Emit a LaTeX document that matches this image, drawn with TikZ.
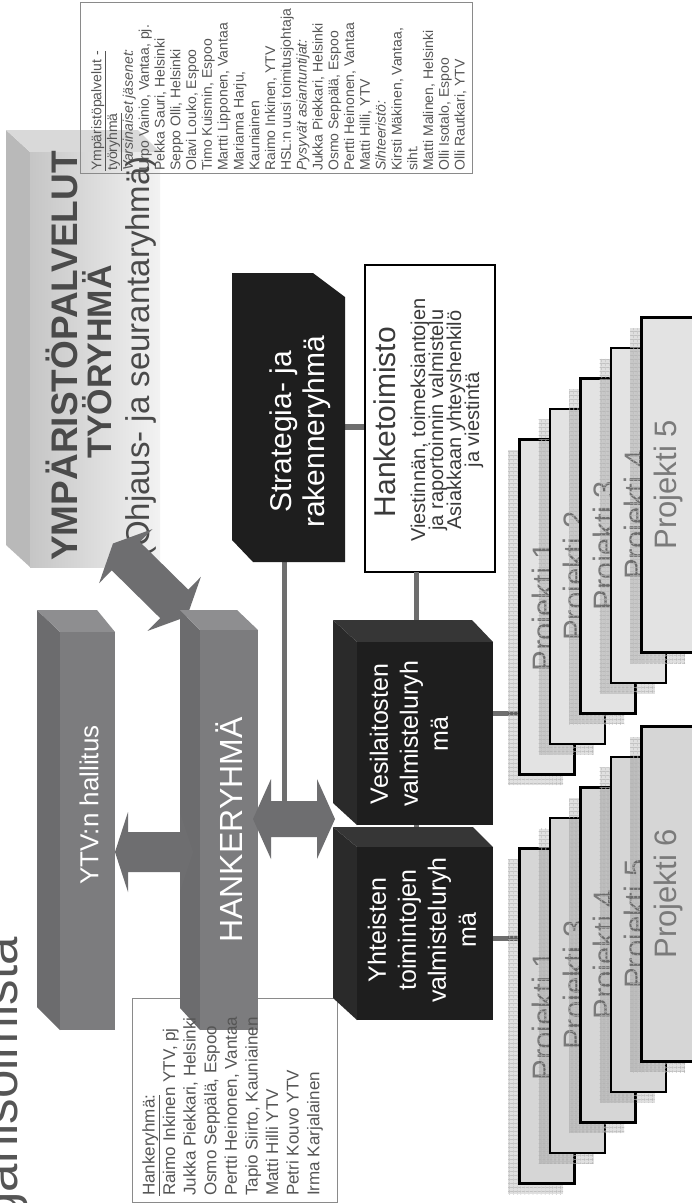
\documentclass[tikz,border=0pt]{standalone}
\usepackage{fontspec}
\setmainfont{Liberation Sans}
\usetikzlibrary{patterns.meta}
\definecolor{gfront}{HTML}{7C7C7E}
\definecolor{gside}{HTML}{6C6C6E}
\definecolor{gtop}{HTML}{8E8E90}
\definecolor{arrowgray}{HTML}{6E6E70}
\definecolor{linegray}{HTML}{6E6E6E}
\definecolor{bfront}{HTML}{1E1E1E}
\definecolor{bside}{HTML}{2A2A2A}
\definecolor{btop}{HTML}{363636}
\definecolor{txtgray}{HTML}{555555}
\definecolor{blktxt}{HTML}{4A4A4A}
\definecolor{hanketxt}{HTML}{3A3A3A}
\definecolor{projA}{HTML}{E3E3E3}
\definecolor{projB}{HTML}{D6D6D6}
\definecolor{projtxt}{HTML}{7A7A7A}
\definecolor{listline}{HTML}{8A8A8A}

\newcommand\blockarrow[7]{% cx, cy, angle, half length, head length, head half width, shaft half width
  \begin{scope}[shift={(#1,#2)}, rotate=#3]
    \fill[arrowgray] (-#4,0) -- (-#4+#5,#6) -- (-#4+#5,#7) -- (#4-#5,#7) -- (#4-#5,#6) -- (#4,0)
      -- (#4-#5,-#6) -- (#4-#5,-#7) -- (-#4+#5,-#7) -- (-#4+#5,-#6) -- cycle;
  \end{scope}}

\newcommand\projbox[5]{% name, left x, top y, fill colour, label
  \fill[black, opacity=0.12] (#2-10,#3+12) rectangle (#2+45,#3+347);
  \fill[pattern={Lines[angle=0,distance=4pt,line width=0.6pt]}, pattern color=black!30] (#2-10,#3+12) rectangle (#2+45,#3+347);
  \fill[pattern={Lines[angle=90,distance=4pt,line width=0.6pt]}, pattern color=black!30] (#2-10,#3+12) rectangle (#2+45,#3+347);
  \node[projbox, fill=#4, anchor=north west] (#1) at (#2,#3) {};
  \node[vtext, projlbl] (#1lbl) at (#1.center) {#5};}

\tikzset{
  every node/.append style={execute at begin node={\lineskiplimit=-100pt}},
  conn/.style={draw=linegray, line width=5.5},
  vtext/.style={rotate=90, inner sep=0, align=center},
  projbox/.style={draw=black, line width=2.5, minimum width=55, minimum height=335, inner sep=0},
  projlbl/.style={font=\fontsize{31}{31}\selectfont, text=projtxt},
  whitetxt/.style={text=white, font=\fontsize{25}{30}\selectfont},
  listbox/.style={draw=listline, line width=0.9},
}

\begin{document}
\begin{tikzpicture}[x=1pt,y=-1pt]
\useasboundingbox (0,0) rectangle (692,1203);
\clip (0,0) rectangle (692,1203);
\fill[white] (0,0) rectangle (692,1203);

% title (clipped at the left edge, as in the reference)
\node[rotate=90, anchor=base east, inner sep=0, font=\fontsize{51}{51}\selectfont, text=txtgray] (title) at (17,937) {organisoimista};

% YMPÄRISTÖPALVELUT block
\fill[gray!55] (6,130) -- (30,152) -- (30,567) -- (6,545) -- cycle;
\fill[gray!30] (6,130) -- (138,130) -- (160,152) -- (30,152) -- cycle;
\shade[left color=gray!45, right color=gray!10] (30,152) rectangle (160,567);

% Ympäristöpalvelut list box (frame over the block)
\draw[listbox] (80,2) rectangle (472,173);
\node[rotate=90, anchor=north west, inner sep=0, align=left, text=txtgray,
      font=\fontsize{14}{15.8}\selectfont] (ymplist) at (91,171) {%
\underline{Ympäristöpalvelut -}\\
\underline{työryhmä}\\
\textit{Varsinaiset jäsenet:}\\
Urpo Vainio, Vantaa, pj.\\
Pekka Sauri, Helsinki\\
Seppo Olli, Helsinki\\
Olavi Louko, Espoo\\
Timo Kuismin, Espoo\\
Martti Lipponen, Vantaa\\
Marianna Harju,\\
Kauniainen\\
Raimo Inkinen, YTV\\
HSL:n uusi toimitusjohtaja\\
\textit{Pysyvät asiantuntijat:}\\
Jukka Piekkari, Helsinki\\
Osmo Seppälä, Espoo\\
Pertti Heinonen, Vantaa\\
Matti Hilli, YTV\\
\textit{Sihteeristö:}\\
Kirsti Mäkinen, Vantaa,\\
siht.\\
Matti Malinen, Helsinki\\
Olli Isotalo, Espoo\\
Olli Rautkari, YTV};

\node[vtext, font=\bfseries\fontsize{37}{37}\selectfont, text=blktxt] (ymp) at (62,356) {YMPÄRISTÖPALVELUT};
\node[vtext, font=\bfseries\fontsize{34}{34}\selectfont, text=blktxt] (tyo) at (97,362) {TYÖRYHMÄ};
\node[vtext, font=\fontsize{33}{33}\selectfont, text=blktxt] (ohj) at (141,357) {(Ohjaus- ja seurantaryhmä)};

% arrow between block and HANKERYHMÄ
\blockarrow{150}{580}{-44.6}{52}{18}{38}{20}

% YTV:n hallitus
\fill[gside] (37,610) -- (60,632) -- (60,1030) -- (37,1007) -- cycle;
\fill[gtop] (37,610) -- (97,610) -- (115,632) -- (60,632) -- cycle;
\fill[gfront] (60,632) rectangle (115,1030);
\node[vtext, text=white, font=\fontsize{26}{26}\selectfont] (ytv) at (89,805) {YTV:n hallitus};

% Hankeryhmä list box frame
\draw[listbox, fill=white] (132,998) rectangle (337,1202);

% HANKERYHMÄ
\fill[gside] (180,610) -- (200,630) -- (200,1030) -- (180,1008) -- cycle;
\fill[gtop] (180,610) -- (237,610) -- (258,630) -- (200,630) -- cycle;
\fill[gfront] (200,630) rectangle (258,1030);
\node[vtext, text=white, font=\fontsize{32}{32}\selectfont] (hank) at (229,830) {HANKERYHMÄ};

% Hankeryhmä list text
\node[rotate=90, anchor=north west, inner sep=0, align=left, text=txtgray,
      font=\fontsize{17}{20.6}\selectfont] (hlist) at (142,1196) {%
\underline{Hankeryhmä:}\\
Raimo Inkinen YTV, pj\\
Jukka Piekkari, Helsinki\\
Osmo Seppälä, Espoo\\
Pertti Heinonen, Vantaa\\
Tapio Siirto, Kauniainen\\
Matti Hilli YTV\\
Petri Kouvo YTV\\
Irma Karjalainen};

% arrow YTV <-> HANKERYHMÄ
\blockarrow{154}{852}{0}{39}{13}{40}{20}

% connector coordinates
\coordinate (strS) at (284.5,562);
\coordinate (arrTop) at (284.5,801);
\coordinate (strE) at (345,427);
\coordinate (hankS) at (416.5,572);
\coordinate (vesN) at (416.5,620);
\coordinate (vesS) at (416.5,825);
\coordinate (yhtN) at (416.5,847);
\coordinate (vesE) at (493,713.5);
\coordinate (yhtE) at (493,938.5);

% Hanketoimisto box
\node[draw=black, line width=2, fill=white, minimum width=130, minimum height=307, inner sep=0] (hanke) at (430,418.5) {};
\node[vtext, text=hanketxt, font=\fontsize{30}{30}\selectfont] (hanketit) at (385,422) {Hanketoimisto};
\node[vtext, text=hanketxt, font=\fontsize{20}{18}\selectfont] (hanketxt) at (447,420) {Viestinnän, toimeksiantojen\\ja raportoinnin valmistelu\\Asiakkaan yhteyshenkilö\\ja viestintä};

% connectors
\draw[conn] (strS) -- (arrTop);
\draw[conn] (strE) -- (strE -| hanke.west);
\draw[conn] (hankS) -- (vesN);
\draw[conn] (vesS) -- (yhtN);

% Strategia box
\fill[bfront] (232,273) -- (313,273) -- (345,297) -- (345,562) -- (253,562) -- (232,540) -- cycle;
\node[vtext, text=white, font=\fontsize{30}{33}\selectfont] (strat) at (300,432) {Strategia- ja\\rakenneryhmä};

% Vesilaitosten box
\fill[bside] (333,620) -- (357,642) -- (357,825) -- (333,803) -- cycle;
\fill[btop] (333,620) -- (472,620) -- (493,642) -- (357,642) -- cycle;
\fill[bfront] (357,642) rectangle (493,825);
\node[vtext, whitetxt] (ves) at (409,734) {Vesilaitosten\\valmisteluryh\\mä};

% Yhteisten box
\fill[bside] (333,827) -- (357,847) -- (357,1020) -- (333,998) -- cycle;
\fill[btop] (333,827) -- (473,827) -- (493,847) -- (357,847) -- cycle;
\fill[bfront] (357,847) rectangle (493,1020);
\node[vtext, whitetxt] (yht) at (422,930) {Yhteisten\\toimintojen\\valmisteluryh\\mä};

% arrow HANKERYHMÄ <-> groups
\blockarrow{294}{819}{0}{41}{18}{40}{18}

% project stack A
\draw[conn] (vesE) -- (vesE -| 518,0);
\projbox{a1}{518}{438}{projA}{Projekti 1}
\projbox{a2}{548.5}{407.5}{projA}{Projekti 2}
\projbox{a3}{579}{377}{projA}{Projekti 3}
\projbox{a4}{609.5}{346.5}{projA}{Projekti 4}
\projbox{a5}{640}{316}{projA}{Projekti 5}

% project stack B
\draw[conn] (yhtE) -- (yhtE -| 518,0);
\projbox{b1}{518}{847}{projB}{Projekti 1}
\projbox{b2}{548.5}{816.5}{projB}{Projekti 3}
\projbox{b3}{579}{786}{projB}{Projekti 4}
\projbox{b4}{609.5}{755.5}{projB}{Projekti 5}
\projbox{b5}{640}{725}{projB}{Projekti 6}
\end{tikzpicture}
\end{document}
